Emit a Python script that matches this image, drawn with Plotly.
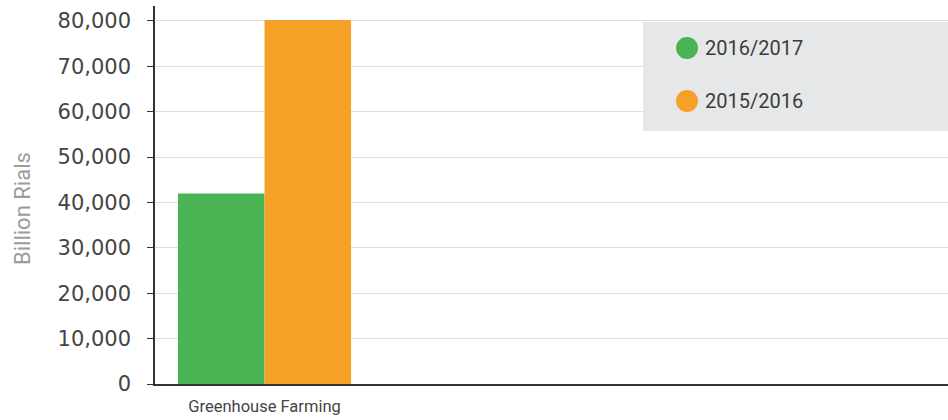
import plotly.graph_objects as go

# Chart data
categories = ["Greenhouse Farming"]
series_names = ["2016/2017", "2015/2016"]
values_2016_2017 = [42000]
values_2015_2016 = [80200]
series_colors = ["#4ab354", "#f5a127"]
y_title = "Billion Rials"

fig = go.Figure()
for name, vals, color in zip(series_names, [values_2016_2017, values_2015_2016], series_colors):
    fig.add_trace(go.Bar(
        x=categories, y=vals, name=name,
        marker=dict(color=color, line=dict(width=0)),
        showlegend=False,
    ))

# Plot-area geometry (pixels) used to place the legend panel and axis title
PX0, PW = 155, 793
PY_BOTTOM, PH = 384, 378


def px_x(v):
    return (v - PX0) / PW


def px_y(v):
    return (PY_BOTTOM - v) / PH


# Custom legend panel with round swatches
shapes = [dict(
    type="rect", xref="paper", yref="paper",
    x0=px_x(643), x1=1.0, y0=px_y(131), y1=px_y(22),
    fillcolor="#e6e7e9", line=dict(width=0), layer="above",
)]
annotations = []
for name, color, row_y in zip(series_names, series_colors, [48, 101]):
    r = 11
    shapes.append(dict(
        type="circle", xref="paper", yref="paper", xsizemode="pixel", ysizemode="pixel",
        xanchor=px_x(687), yanchor=px_y(row_y), x0=-r, x1=r, y0=-r, y1=r,
        fillcolor=color, line=dict(width=0), layer="above",
    ))
    annotations.append(dict(
        xref="paper", yref="paper", x=px_x(703), y=px_y(row_y), text=name,
        showarrow=False, xanchor="left", yanchor="middle",
        font=dict(family="Roboto", size=20, color="#3c3c3c"),
    ))

# Vertical y-axis title
annotations.append(dict(
    xref="paper", yref="paper", x=px_x(23), y=px_y(209), text=y_title,
    textangle=-90, showarrow=False, xanchor="center", yanchor="middle",
    font=dict(family="Roboto", size=22, color="#9c9c9c"),
))

fig.update_layout(
    width=948, height=420,
    margin=dict(l=155, r=0, t=6, b=36),
    plot_bgcolor="white", paper_bgcolor="white",
    barmode="group", bargap=0.21, bargroupgap=0,
    shapes=shapes, annotations=annotations,
    font=dict(family="Roboto", color="#444"),
    xaxis=dict(
        type="category", range=[-0.5, 3.12],
        showline=True, linecolor="#333", linewidth=1.5,
        ticks="", showgrid=False, ticklabelstandoff=6,
        tickfont=dict(family="Roboto", size=16.5, color="#444"),
    ),
    yaxis=dict(
        range=[0, 83300],
        tickvals=[0, 10000, 20000, 30000, 40000, 50000, 60000, 70000, 80000],
        tickformat=",d",
        showline=True, linecolor="#333", linewidth=1.5,
        ticks="outside", ticklen=6, tickcolor="#333",
        ticklabelstandoff=12,
        gridcolor="#dedede", gridwidth=1,
        zeroline=False,
        tickfont=dict(family="DejaVu Sans", size=21, color="#444"),
    ),
)

fig.write_html("out.html")
